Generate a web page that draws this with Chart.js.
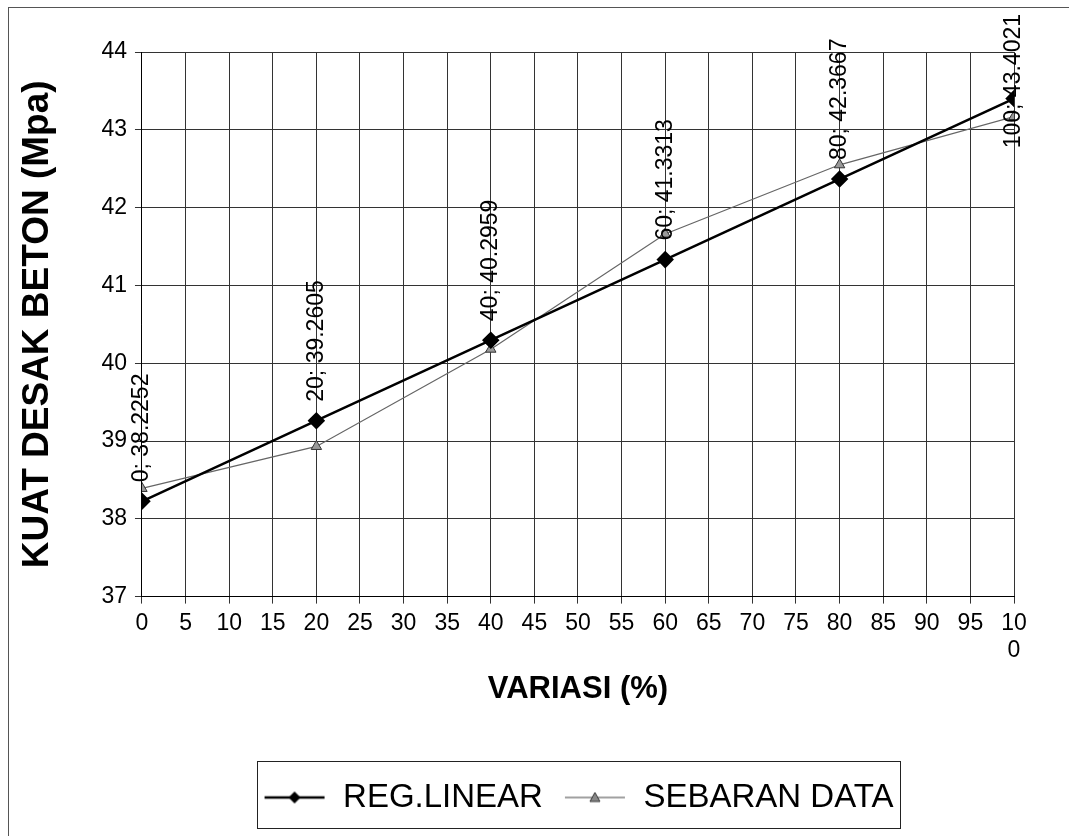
<!DOCTYPE html>
<html>
<head>
<meta charset="utf-8">
<script src="https://cdn.jsdelivr.net/npm/chart.js@4.4.1/dist/chart.umd.min.js"></script>
<style>
  html, body { margin: 0; padding: 0; background: #fff; }
  #wrap { width: 1069px; height: 836px; position: relative; }
</style>
</head>
<body>
<div id="wrap"><canvas id="myChart"></canvas></div>
<script>
// data
const variasi = [0, 20, 40, 60, 80, 100];
const regLinear = [38.2252, 39.2605, 40.2959, 41.3313, 42.3667, 43.4021];
const sebaranData = [38.39, 38.93, 40.18, 41.66, 42.55, 43.17];
const seriesNames = ['REG.LINEAR', 'SEBARAN DATA'];
const yTitle = 'KUAT DESAK BETON (Mpa)';
const xTitle = 'VARIASI (%)';

const FONT = "'Liberation Sans', Arial, sans-serif";

// legend sample: short line with the marker in the middle
function legendSample(kind) {
    const c = document.createElement('canvas');
    c.width = 64; c.height = 20;
    const g = c.getContext('2d');
    g.strokeStyle = kind === 0 ? '#000' : '#444';
    g.lineWidth = kind === 0 ? 2.5 : 1.2;
    g.beginPath(); g.moveTo(2, 10); g.lineTo(62, 10); g.stroke();
    if (kind === 0) {
        g.fillStyle = '#000';
        g.beginPath(); g.moveTo(32, 4); g.lineTo(38, 10); g.lineTo(32, 16); g.lineTo(26, 10); g.closePath(); g.fill();
    } else {
        g.fillStyle = '#888'; g.strokeStyle = '#333'; g.lineWidth = 1;
        g.beginPath(); g.moveTo(32, 5); g.lineTo(37, 14); g.lineTo(27, 14); g.closePath(); g.fill(); g.stroke();
    }
    return c;
}

// rotated "x; y" labels above each REG.LINEAR point
const pointLabels = {
    id: 'pointLabels',
    afterDatasetsDraw(chart) {
        const ctx = chart.ctx;
        const meta = chart.getDatasetMeta(0);
        ctx.save();
        ctx.font = '23px ' + FONT;
        ctx.fillStyle = '#000';
        ctx.textAlign = 'left';
        ctx.textBaseline = 'middle';
        meta.data.forEach((pt, i) => {
            const txt = variasi[i] + '; ' + regLinear[i];
            const w = ctx.measureText(txt).width;
            let start = pt.y - 19;
            if (start - w < 14) start = 14 + w;
            ctx.save();
            ctx.translate(pt.x, start);
            ctx.rotate(-Math.PI / 2);
            ctx.fillText(txt, 0, 0);
            ctx.restore();
        });
        ctx.restore();
    }
};

// outer chart border and legend frame around the items only
const frames = {
    id: 'frames',
    afterDraw(chart) {
        const ctx = chart.ctx;
        const lg = chart.legend;
        ctx.save();
        ctx.strokeStyle = '#555';
        ctx.lineWidth = 1;
        ctx.strokeRect(8.5, 7.5, 1080, 840);
        const boxes = lg.legendHitBoxes;
        const l = Math.min(...boxes.map(b => b.left)) - 6;
        const r = Math.max(...boxes.map(b => b.left + b.width)) + 6;
        ctx.strokeStyle = '#222';
        ctx.strokeRect(Math.round(l) + 0.5, lg.top + 0.5, Math.round(r - l), lg.height + 4);
        ctx.restore();
    }
};

const ctx = document.getElementById('myChart').getContext('2d');
const chart = new Chart(ctx, {
    type: 'line',
    data: {
        datasets: [
            {
                label: seriesNames[0],
                data: variasi.map((x, i) => ({ x: x, y: regLinear[i] })),
                borderColor: '#000',
                borderWidth: 2.5,
                pointStyle: 'rectRot',
                pointRadius: 7,
                pointBackgroundColor: '#000',
                pointBorderColor: '#000',
                tension: 0
            },
            {
                label: seriesNames[1],
                data: variasi.map((x, i) => ({ x: x, y: sebaranData[i] })),
                borderColor: '#666',
                borderWidth: 1.2,
                pointStyle: 'triangle',
                pointRadius: 6,
                pointBackgroundColor: '#999',
                pointBorderColor: '#333',
                pointBorderWidth: 1,
                tension: 0
            }
        ]
    },
    options: {
        responsive: true,
        maintainAspectRatio: false,
        animation: false,
        layout: { padding: { left: 16, right: 55, top: 52, bottom: 12 } },
        scales: {
            x: {
                type: 'linear',
                min: 0, max: 100,
                ticks: {
                    stepSize: 5,
                    color: '#000',
                    font: { family: FONT, size: 23 },
                    maxRotation: 0,
                    padding: 6,
                    callback: v => v === 100 ? ['10', '0'] : String(v)
                },
                grid: { color: '#333', lineWidth: 1, tickLength: 7, drawTicks: true },
                border: { color: '#000', width: 1 },
                title: {
                    display: true, text: xTitle, color: '#000',
                    font: { family: FONT, size: 31, weight: 'bold' },
                    padding: { top: 0, bottom: 53 }
                }
            },
            y: {
                min: 37, max: 44,
                ticks: {
                    stepSize: 1,
                    color: '#000',
                    font: { family: FONT, size: 23 },
                    padding: 8
                },
                grid: { color: '#333', lineWidth: 1, tickLength: 7 },
                border: { color: '#000', width: 1 },
                title: {
                    display: true, text: yTitle, color: '#000',
                    font: { family: FONT, size: 37, weight: 'bold' },
                    padding: { top: 0, bottom: 33 }
                }
            }
        },
        plugins: {
            legend: {
                position: 'bottom',
                fullSize: false,
                labels: {
                    usePointStyle: true,
                    pointStyleWidth: 64,
                    color: '#000',
                    font: { family: FONT, size: 33 },
                    padding: 20,
                    generateLabels(ch) {
                        const items = Chart.defaults.plugins.legend.labels.generateLabels(ch);
                        items.forEach((it, i) => { it.pointStyle = legendSample(i); });
                        return items;
                    }
                }
            },
            tooltip: { enabled: false }
        }
    },
    plugins: [pointLabels, frames]
});
</script>
</body>
</html>
